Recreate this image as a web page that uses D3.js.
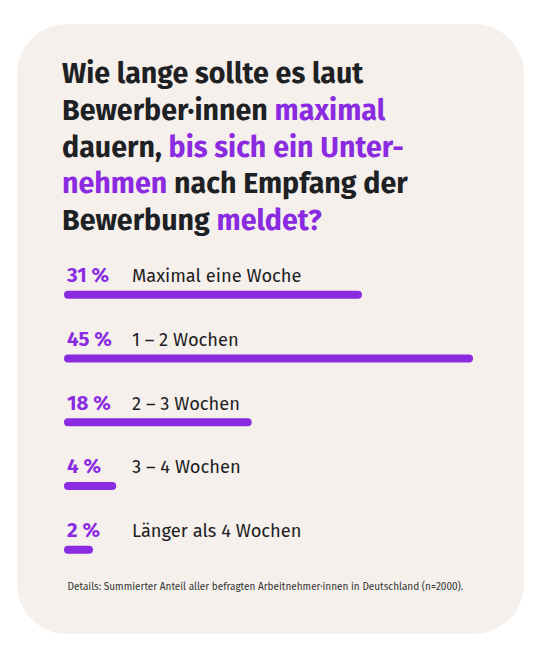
<!DOCTYPE html>
<html>
<head>
<meta charset="utf-8">
<script src="https://cdn.jsdelivr.net/npm/d3@7"></script>
<style>
  html, body { margin: 0; padding: 0; background: #fff; }
  svg { display: block; font-family: "Fira Sans", "Noto Sans", sans-serif; }
</style>
</head>
<body>
<div id="chart"></div>
<script>
// data
var categories = ["Maximal eine Woche", "1 – 2 Wochen", "2 – 3 Wochen", "3 – 4 Wochen", "Länger als 4 Wochen"];
var shares = [31, 45, 18, 4, 2];
var titleLines = [
  [["Wie lange sollte es laut", false]],
  [["Bewerber·innen ", false], ["maximal", true]],
  [["dauern, ", false], ["bis sich ein Unter-", true]],
  [["nehmen", true], [" nach Empfang der", false]],
  [["Bewerbung ", false], ["meldet?", true]]
];
var footnote = "Details: Summierter Anteil aller befragten Arbeitnehmer·innen in Deutschland (n=2000).";

var width = 546, height = 660;
var purple = "#8a2be2", ink = "#1e2124", paper = "#f5f0eb";

var svg = d3.select("#chart").append("svg")
  .attr("width", width)
  .attr("height", height);

// card
svg.append("rect")
  .attr("x", 17).attr("y", 24)
  .attr("width", 507).attr("height", 610)
  .attr("rx", 50).attr("ry", 50)
  .attr("fill", paper);

// title
var title = svg.append("text")
  .attr("font-size", 28.6)
  .attr("font-weight", 700)
  .attr("fill", ink);
titleLines.forEach(function(line, i) {
  var row = title.append("tspan").attr("x", 62).attr("y", 83 + i * 36.8);
  line.forEach(function(part, j) {
    (j === 0 ? row : title.append("tspan"))
      .text(part[0])
      .attr("fill", part[1] ? purple : ink);
  });
});

// scales
var x = d3.scalePow().exponent(0.85)
  .domain([0, d3.max(shares)])
  .range([0, 409]);
var y = d3.scalePoint()
  .domain(categories)
  .range([282, 537]);

var rows = svg.append("g").selectAll("g")
  .data(categories)
  .join("g")
  .attr("transform", function(d) { return "translate(0," + y(d) + ")"; });

rows.append("text")
  .attr("x", 67)
  .attr("font-size", 20.5)
  .attr("font-weight", 700)
  .attr("fill", purple)
  .text(function(d, i) { return shares[i] + " %"; });

rows.append("text")
  .attr("x", 132)
  .attr("font-size", 18.3)
  .attr("fill", ink)
  .text(function(d) { return d; });

rows.append("rect")
  .attr("x", 64)
  .attr("y", 8.7)
  .attr("height", 8)
  .attr("rx", 4)
  .attr("width", function(d, i) { return x(shares[i]); })
  .attr("fill", purple);

// footnote
svg.append("text")
  .attr("x", 67.5)
  .attr("y", 590)
  .attr("font-size", 10)
  .attr("fill", "#333")
  .text(footnote);
</script>
</body>
</html>
